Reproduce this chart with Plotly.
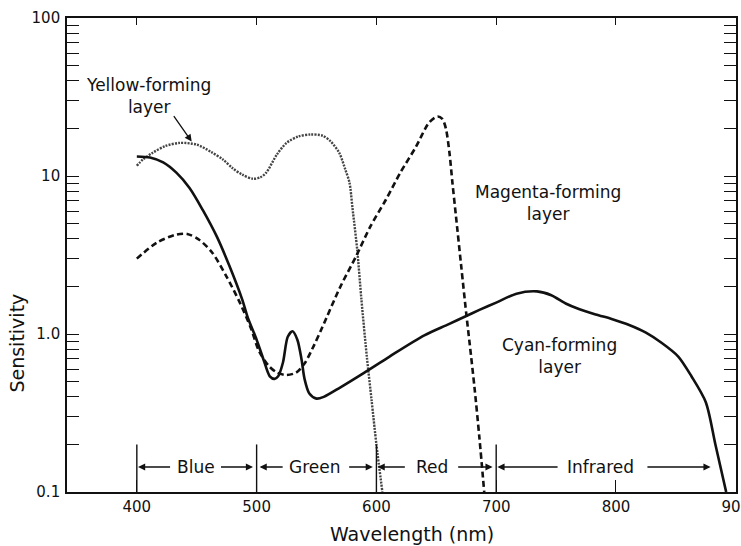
import plotly.graph_objects as go
import math

# ---------------- data ----------------
yellow_nm = [400, 405, 413, 424, 436, 450, 462, 472, 480, 488, 497, 503, 508, 517, 525, 535, 545,
             555, 562, 569, 574, 577.5, 580, 584, 587.5, 592, 596, 600, 605]
yellow_val = [11.6, 12.7, 14.0, 15.5, 16.2, 15.8, 14.2, 12.7, 11.2, 10.2, 9.6, 9.8, 10.5, 13.7, 16.2,
              17.8, 18.3, 18.0, 16.5, 14.0, 11.0, 9.1, 6.3, 3.4, 1.65, 0.72, 0.38, 0.2, 0.1]

magenta_nm = [400, 417, 433, 442, 452, 463, 475, 486, 495, 502, 510, 517, 525, 533, 540, 548, 555,
              570, 583, 595, 608, 620, 633, 644, 651, 655, 658, 661, 663.5, 666.5, 671, 675, 678,
              682, 686, 690]
magenta_val = [3.0, 3.8, 4.26, 4.3, 3.95, 3.27, 2.3, 1.58, 1.1, 0.78, 0.63, 0.57, 0.55, 0.57, 0.65,
               0.85, 1.11, 2.0, 3.1, 4.8, 7.1, 10.5, 15.3, 21.8, 23.8, 23.0, 20.0, 14.0, 9.0, 5.5,
               2.6, 1.35, 0.85, 0.45, 0.22, 0.1]

cyan_nm = [400, 411, 422, 433, 444, 455, 467, 477.5, 488, 492.5, 500, 506, 511, 515, 518, 522, 526,
           530, 534, 537.5, 540, 544, 550, 556, 570, 590, 611, 640, 660, 675, 686, 700, 717, 734,
           746, 758, 769, 783, 797, 811, 825, 838, 852, 863, 875, 883, 892]
cyan_val = [13.3, 13.1, 12.2, 10.5, 8.4, 6.1, 4.1, 2.67, 1.65, 1.28, 0.92, 0.68, 0.54, 0.52, 0.54,
            0.66, 0.96, 1.04, 0.92, 0.69, 0.52, 0.42, 0.39, 0.40, 0.46, 0.57, 0.72, 0.98, 1.15,
            1.3, 1.42, 1.58, 1.8, 1.86, 1.76, 1.56, 1.44, 1.33, 1.24, 1.14, 1.02, 0.88, 0.72,
            0.54, 0.37, 0.2, 0.1]

band_names = ["Blue", "Green", "Red", "Infrared"]
band_centers = [449, 548, 646, 787]
band_dividers = [400, 500, 600, 700]
band_arrow_left = [(429, 401), (523, 502.5), (625, 601), (752.5, 701)]    # (tail, head)
band_arrow_right = [(469, 497), (576, 597), (667, 697), (825, 879)]       # (tail, head)

xtick_vals = [400, 500, 600, 700, 800, 900]
ytick_vals = [0.1, 1, 10, 100]
ytick_text = ["0.1", "1.0", "10", "100"]

# ---------------- figure ----------------
FONT = "DejaVu Sans"
INK = "#111111"

fig = go.Figure()
fig.add_trace(go.Scatter(x=yellow_nm, y=yellow_val, mode="lines",
                         line=dict(color="#444444", width=2.4, dash="2px,1.2px", shape="spline", smoothing=0.8),
                         showlegend=False, hoverinfo="skip"))
fig.add_trace(go.Scatter(x=magenta_nm, y=magenta_val, mode="lines",
                         line=dict(color=INK, width=2.6, dash="6px,3.5px", shape="spline", smoothing=0.8),
                         showlegend=False, hoverinfo="skip"))
fig.add_trace(go.Scatter(x=cyan_nm, y=cyan_val, mode="lines",
                         line=dict(color=INK, width=2.6, shape="spline", smoothing=0.8),
                         showlegend=False, hoverinfo="skip"))
# empty trace to carry the top axis ticks
fig.add_trace(go.Scatter(x=[], y=[], xaxis="x2", showlegend=False, hoverinfo="skip"))

annotations = []
arrow_y = math.log10(0.144)
for name, c in zip(band_names, band_centers):
    annotations.append(dict(x=c, y=arrow_y, xref="x", yref="y", text=name, showarrow=False,
                            font=dict(family=FONT, size=17, color=INK)))
for tail, head in band_arrow_left + band_arrow_right:
    annotations.append(dict(x=head, y=arrow_y, ax=tail, ay=arrow_y, xref="x", yref="y",
                            axref="x", ayref="y", text="", showarrow=True,
                            arrowhead=2, arrowsize=1.1, arrowwidth=1.3, arrowcolor=INK))

label_font = dict(family=FONT, size=17, color=INK)
annotations.append(dict(x=410, y=1.506, xref="x", yref="y", text="Yellow-forming<br>layer",
                        showarrow=False, align="center", font=label_font))
annotations.append(dict(x=445.8, y=1.218, ax=430, ay=1.389, xref="x", yref="y", axref="x", ayref="y",
                        text="", showarrow=True, arrowhead=2, arrowsize=1.1, arrowwidth=1.3,
                        arrowcolor=INK))
annotations.append(dict(x=743, y=0.831, xref="x", yref="y", text="Magenta-forming<br>layer",
                        showarrow=False, align="center", font=label_font))
annotations.append(dict(x=753, y=-0.138, xref="x", yref="y", text="Cyan-forming<br>layer",
                        showarrow=False, align="center", font=label_font))
# axis titles
annotations.append(dict(x=0.516, y=-0.089, xref="paper", yref="paper", text="Wavelength (nm)",
                        showarrow=False, xanchor="center", yanchor="middle",
                        font=dict(family=FONT, size=19, color=INK)))
annotations.append(dict(x=-0.0749, y=0.315, xref="paper", yref="paper", text="Sensitivity",
                        textangle=-90, showarrow=False, xanchor="center", yanchor="middle",
                        font=dict(family=FONT, size=19, color=INK)))

shapes = []
for d in band_dividers:
    shapes.append(dict(type="line", xref="x", yref="y", x0=d, x1=d, y0=0.1, y1=0.2,
                       line=dict(color=INK, width=1.4)))

minor_vals = [m * 10 ** k for k in (-1, 0, 1) for m in range(2, 10)]

fig.update_layout(
    template="none",
    width=741, height=546,
    margin=dict(l=67, r=5, t=18, b=54, autoexpand=False),
    paper_bgcolor="white", plot_bgcolor="white",
    font=dict(family=FONT, size=15, color=INK),
    annotations=annotations, shapes=shapes,
    xaxis=dict(range=[341.7, 900.2], tickvals=xtick_vals, ticks="inside", ticklen=12,
               tickwidth=1.2, tickcolor=INK, showline=True, linecolor=INK, linewidth=1.6,
               mirror=True, showgrid=False, zeroline=False, automargin=False,
               ticklabeloverflow="allow",
               tickfont=dict(family=FONT, size=15, color=INK)),
    xaxis2=dict(overlaying="x", matches="x", side="top", anchor="y", tickvals=xtick_vals[:-1],
                ticks="inside", ticklen=7, tickwidth=1.2, tickcolor=INK, showticklabels=False,
                showline=False, showgrid=False, zeroline=False, automargin=False),
    yaxis=dict(type="log", range=[-1, 2], tickvals=ytick_vals, ticktext=ytick_text,
               ticks="inside", ticklen=12, tickwidth=1.2, tickcolor=INK,
               showline=True, linecolor=INK, linewidth=1.6, mirror="allticks",
               showgrid=False, zeroline=False, ticklabelstandoff=2, automargin=False,
               tickfont=dict(family=FONT, size=15, color=INK),
               minor=dict(tickvals=minor_vals, ticks="inside", ticklen=7, tickwidth=1.1,
                          tickcolor=INK, showgrid=False)),
)

fig.write_html("out.html", config={"displayModeBar": False},
               post_script="document.body.style.margin='0px';document.body.style.overflow='hidden';")
